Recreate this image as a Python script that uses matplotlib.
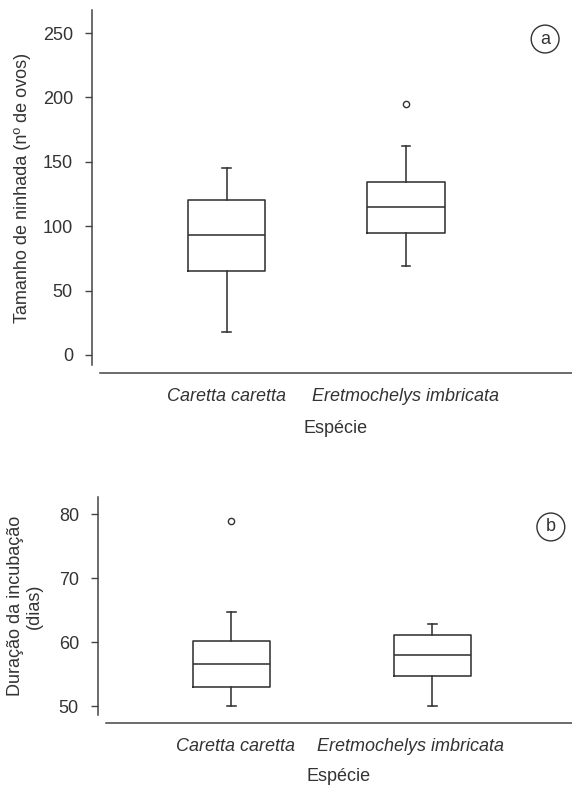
import matplotlib
matplotlib.use("Agg")
import matplotlib.pyplot as plt

# Tamanho de ninhada e duração da incubação por espécie

plt.rcParams['font.family'] = ['Liberation Sans', 'DejaVu Sans']
plt.rcParams['font.size'] = 13
plt.rcParams['text.color'] = '#333333'
plt.rcParams['axes.labelcolor'] = '#333333'
plt.rcParams['xtick.color'] = '#333333'
plt.rcParams['ytick.color'] = '#333333'

#DONNEES
especies = ['Caretta caretta', 'Eretmochelys imbricata']

# (a) tamanho de ninhada (nº de ovos)
ninhada_min = [18, 69]
ninhada_q1 = [65, 95]
ninhada_med = [93, 115]
ninhada_q3 = [120, 134]
ninhada_max = [145, 162]
ninhada_out = [[], [195]]

# (b) duração da incubação (dias)
incub_min = [50, 50]
incub_q1 = [53, 54.8]
incub_med = [56.6, 58.1]
incub_q3 = [60.2, 61.2]
incub_max = [64.8, 62.8]
incub_out = [[79], []]


def stats(lo, q1, med, q3, hi, out):
    return [dict(label=especies[i], whislo=lo[i], q1=q1[i], med=med[i],
                 q3=q3[i], whishi=hi[i], fliers=out[i]) for i in range(len(lo))]


#CREATION FIGURE
fig = plt.figure(figsize=(5.72, 7.87), dpi=100)
ax1 = fig.add_axes([0.1748, 0.5362, 0.8252, 0.4511])
ax2 = fig.add_axes([0.1853, 0.0915, 0.8147, 0.2770])

lc = '#333333'
props = dict(color=lc, linewidth=1.15)
flier = dict(marker='o', markersize=4.5, markerfacecolor='white',
             markeredgecolor=lc, markeredgewidth=1.0)


def style(ax):
    for s in ['top', 'right']:
        ax.spines[s].set_visible(False)
    for s in ['left', 'bottom']:
        ax.spines[s].set_position(('outward', 6))
        ax.spines[s].set_color('#444444')
        ax.spines[s].set_linewidth(1.1)
    ax.tick_params(axis='y', length=5, width=1.0, pad=8.5, color='#444444')
    ax.tick_params(axis='x', length=0, pad=10.5)
    for t in ax.get_xticklabels():
        t.set_fontstyle('italic')


#PAINEL (a)
ax1.bxp(stats(ninhada_min, ninhada_q1, ninhada_med, ninhada_q3, ninhada_max, ninhada_out),
        positions=[1, 2], widths=0.43, capwidths=0.05,
        boxprops=props, whiskerprops=props, capprops=props,
        medianprops=props, flierprops=flier)
ax1.set_ylim(-7.8, 267.9)
ax1.set_xlim(0.295, 2.925)
ax1.set_yticks([0, 50, 100, 150, 200, 250])
style(ax1)
ax1.set_ylabel('Tamanho de ninhada (nº de ovos)')
ax1.yaxis.set_label_coords(-0.164, 0.5)
ax1.yaxis.label.set_verticalalignment('center')
ax1.set_xlabel('Espécie')
ax1.xaxis.set_label_coords(0.5, -0.1775)
ax1.xaxis.label.set_verticalalignment('center')
ax1.text(0.953, 0.9504, 'a', transform=fig.transFigure, ha='center', va='center',
         bbox=dict(boxstyle='circle,pad=0.3', fc='white', ec=lc, lw=1.0))

#PAINEL (b)
ax2.bxp(stats(incub_min, incub_q1, incub_med, incub_q3, incub_max, incub_out),
        positions=[1, 2], widths=0.383, capwidths=0.046,
        boxprops=props, whiskerprops=props, capprops=props,
        medianprops=props, flierprops=flier)
ax2.set_ylim(48.67, 82.7)
ax2.set_xlim(0.376, 2.694)
ax2.set_yticks([50, 60, 70, 80])
ax2.set_xticks([1.02, 1.89])
ax2.set_xticklabels(especies)
style(ax2)
ax2.set_ylabel('Duração da incubação\n(dias)', multialignment='center')
ax2.yaxis.set_label_coords(-0.174, 0.5)
ax2.yaxis.label.set_verticalalignment('center')
ax2.set_xlabel('Espécie')
ax2.xaxis.set_label_coords(0.5, -0.28)
ax2.xaxis.label.set_verticalalignment('center')
ax2.text(0.963, 0.3304, 'b', transform=fig.transFigure, ha='center', va='center',
         bbox=dict(boxstyle='circle,pad=0.3', fc='white', ec=lc, lw=1.0))

plt.savefig('out.png', dpi=100)
